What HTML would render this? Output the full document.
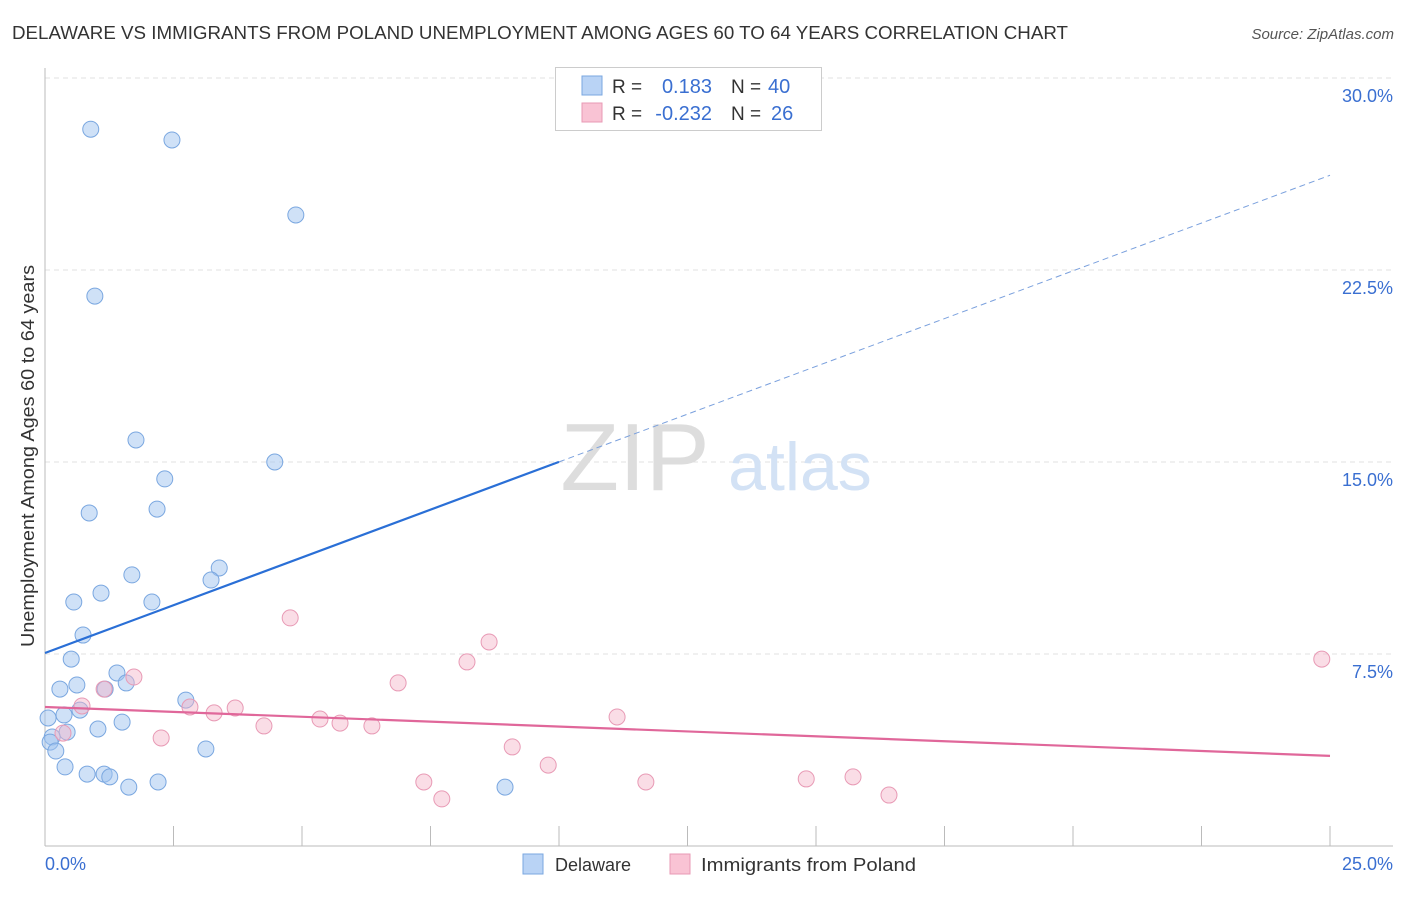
<!DOCTYPE html>
<html><head><meta charset="utf-8"><style>
body{margin:0;background:#fff;font-family:"Liberation Sans",sans-serif}
svg text{font-family:"Liberation Sans",sans-serif}
</style></head><body>
<svg width="1406" height="892">
<text x="12" y="39" font-size="18" fill="#333" textLength="1056" lengthAdjust="spacingAndGlyphs">DELAWARE VS IMMIGRANTS FROM POLAND UNEMPLOYMENT AMONG AGES 60 TO 64 YEARS CORRELATION CHART</text>
<text x="1394" y="39" font-size="15" fill="#555" font-style="italic" text-anchor="end">Source: ZipAtlas.com</text>
<g id="grid"></g>
<text x="635" y="490" font-size="96" fill="#ddd" font-family="Liberation Serif" text-anchor="middle">ZIP</text>
<text x="800" y="490" font-size="68" fill="#d3e2f5" text-anchor="middle">atlas</text>
<g id="marks"></g>
<text transform="translate(34,456) rotate(-90)" font-size="18" fill="#333" text-anchor="middle" textLength="382" lengthAdjust="spacingAndGlyphs">Unemployment Among Ages 60 to 64 years</text>
<g>
<rect x="555.5" y="67.5" width="266" height="63" fill="#fff" stroke="#ccc"/>
<rect x="582" y="76" width="20" height="19" fill="#b9d3f5" stroke="#7aa7e0"/>
<rect x="582" y="103" width="20" height="19" fill="#f9c3d4" stroke="#e89ab5"/>
<text x="612" y="93" font-size="19" fill="#333">R =</text>
<text x="712" y="93" font-size="20" fill="#3a6fd1" text-anchor="end">0.183</text>
<text x="731" y="93" font-size="19" fill="#333">N =</text>
<text x="768" y="93" font-size="20" fill="#3a6fd1">40</text>
<text x="612" y="120" font-size="19" fill="#333">R =</text>
<text x="712" y="120" font-size="20" fill="#3a6fd1" text-anchor="end">-0.232</text>
<text x="731" y="120" font-size="19" fill="#333">N =</text>
<text x="771" y="120" font-size="20" fill="#3a6fd1">26</text>
</g>
<g>
<rect x="523" y="854" width="20" height="20" fill="#b9d3f5" stroke="#7aa7e0"/>
<text x="555" y="871" font-size="18" fill="#333">Delaware</text>
<rect x="670" y="854" width="20" height="20" fill="#f9c3d4" stroke="#e89ab5"/>
<text x="701" y="871" font-size="18" fill="#333" textLength="215" lengthAdjust="spacingAndGlyphs">Immigrants from Poland</text>
</g>
</svg>
<script>
const yTicks=[7.5,15,22.5,30];
const yTickLabels=["7.5%","15.0%","22.5%","30.0%"];
const xTicks=[0,2.5,5,7.5,10,12.5,15,17.5,20,22.5,25];
const blueX=[0.89,2.47,4.88,0.97,1.77,4.47,2.33,0.86,2.18,3.39,3.23,1.69,1.09,0.56,2.08,0.74,0.51,1.40,0.29,0.62,1.58,1.17,2.74,0.68,0.37,0.06,1.50,1.03,0.43,0.14,0.10,0.21,3.13,0.39,0.82,1.15,1.26,1.63,2.20,8.95];
const blueY=[28.0,27.58,24.65,21.48,15.86,15.0,14.34,13.01,13.16,10.86,10.39,10.59,9.88,9.53,9.53,8.24,7.30,6.76,6.13,6.29,6.37,6.13,5.70,5.31,5.12,5.0,4.84,4.57,4.45,4.26,4.06,3.71,3.79,3.09,2.81,2.81,2.70,2.30,2.50,2.30];
const pinkX=[4.77,8.64,8.21,24.84,6.87,1.73,1.15,0.72,2.82,3.70,3.29,11.13,5.35,5.74,4.26,6.36,2.26,0.35,9.09,9.79,7.37,7.72,11.69,14.81,15.72,16.42];
const pinkY=[8.91,7.97,7.19,7.30,6.37,6.60,6.13,5.47,5.43,5.39,5.20,5.04,4.96,4.80,4.69,4.69,4.22,4.41,3.87,3.16,2.50,1.84,2.50,2.62,2.70,1.99];
const blueTrend=[7.54,26.2];
const pinkTrend=[5.43,3.52];
const NS='http://www.w3.org/2000/svg';
const X=v=>45+v*51.4, Y=v=>846-v*25.6;
function mk(t,a,p){const e=document.createElementNS(NS,t);for(const k in a)e.setAttribute(k,a[k]);p.appendChild(e);return e;}
const g=document.getElementById('grid'),m=document.getElementById('marks');
yTicks.forEach((t,i)=>{
 const l=mk('line',{x1:45,x2:1393,y1:Y(t),y2:Y(t),stroke:'#e2e2e2','stroke-dasharray':'5,4'},g);
 
 
 const tx=mk('text',{x:1393,y:Y(t)+24,'font-size':18,fill:'#3a6fd1','text-anchor':'end'},g);
 tx.textContent=yTickLabels[i];
 
 
});
const ax=mk('line',{x1:45,x2:1393,y1:846,y2:846,stroke:'#bbb'},g);


const ay=mk('line',{x1:45,x2:45,y1:68,y2:846,stroke:'#bbb'},g);


xTicks.forEach(t=>{const l=mk('line',{x1:X(t),x2:X(t),y1:826,y2:846,stroke:'#bbb'},g);
 
 });
[[45,'start','0.0%'],[1393,'end','25.0%']].forEach(a=>{const t=mk('text',{x:a[0],y:870,'font-size':18,fill:'#3a6fd1','text-anchor':a[1]},g);t.textContent=a[2];
 
 });
blueX.forEach((x,i)=>{const c=mk('circle',{cx:X(x),cy:Y(blueY[i]),r:8,fill:'rgba(160,196,240,0.5)',stroke:'#7aa7e0','stroke-width':1},m);
 
 });
pinkX.forEach((x,i)=>{const c=mk('circle',{cx:X(x),cy:Y(pinkY[i]),r:8,fill:'rgba(245,180,200,0.45)',stroke:'#e89ab5','stroke-width':1},m);
 
 });
const bx=10;const by=blueTrend[0]+(blueTrend[1]-blueTrend[0])*bx/25;
const b1=mk('line',{x1:X(0),y1:Y(blueTrend[0]),x2:X(bx),y2:Y(by),stroke:'#2a6fd6','stroke-width':2.2},m);


const b2=mk('line',{x1:X(bx),y1:Y(by),x2:X(25),y2:Y(blueTrend[1]),stroke:'#7aa0dd','stroke-width':1,'stroke-dasharray':'6,4'},m);


const p1=mk('line',{x1:X(0),y1:Y(pinkTrend[0]),x2:X(25),y2:Y(pinkTrend[1]),stroke:'#e0679a','stroke-width':2.2},m);


</script>
</body></html>
